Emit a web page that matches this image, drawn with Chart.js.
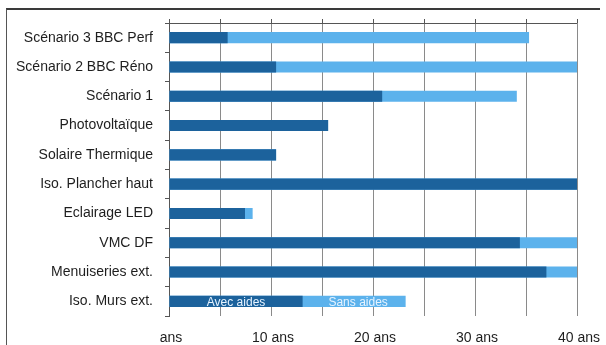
<!DOCTYPE html>
<html lang="fr">
<head>
<meta charset="utf-8">
<title>Temps de retour sur investissement</title>
<script src="https://cdn.jsdelivr.net/npm/chart.js@4/dist/chart.umd.min.js"></script>
<style>
  html, body { margin: 0; padding: 0; background: #ffffff; overflow: hidden; }
  #wrap { position: relative; width: 606px; height: 345px; }
  #frame {
    position: absolute; left: 6px; top: 8px; width: 594px; height: 337px;
    border-top: 2px solid #3a3a3a; border-left: 1px solid #555555;
    box-sizing: border-box; pointer-events: none;
  }
  canvas { position: absolute; left: 0; top: 0; }
</style>
</head>
<body>
<div id="wrap">
  <canvas id="chart" width="606" height="345"></canvas>
  <div id="frame"></div>
</div>
<script>
// Postes de travaux
const categories = [
  'Scénario 3 BBC Perf',
  'Scénario 2 BBC Réno',
  'Scénario 1',
  'Photovoltaïque',
  'Solaire Thermique',
  'Iso. Plancher haut',
  'Eclairage LED',
  'VMC DF',
  'Menuiseries ext.',
  'Iso. Murs ext.'
];

// Temps de retour (années)
const avecAides = [5.75, 10.5, 20.9, 15.6, 10.5, 40, 7.45, 34.4, 37.0, 13.1];
const sansAides = [35.3, 40, 34.1, 15.6, 10.5, 40, 8.2, 40, 40, 23.2];

// Graduations de l'axe des durées
const axisMin = 0;
const axisMax = 40;
const axisStep = 5;
const labelledTicks = [0, 10, 20, 30, 40];
const tickLabel = v => (v === 0 ? 'ans' : v + ' ans');

const FONT = '"Liberation Sans", Arial, sans-serif';

// Trait supérieur de la zone de tracé + petites graduations au-dessus
const topAxisLine = {
  id: 'topAxisLine',
  afterDatasetsDraw(chart) {
    const { ctx, chartArea, scales } = chart;
    ctx.save();
    ctx.strokeStyle = '#555555';
    ctx.lineWidth = 1;
    ctx.beginPath();
    ctx.moveTo(chartArea.left, chartArea.top + 0.5);
    ctx.lineTo(chartArea.right, chartArea.top + 0.5);
    scales.x.ticks.forEach(t => {
      const x = Math.round(scales.x.getPixelForValue(t.value)) + 0.5;
      ctx.moveTo(x, chartArea.top - 4);
      ctx.lineTo(x, chartArea.top);
    });
    ctx.stroke();
    ctx.restore();
  }
};

// Libellés de durée sous l'axe (tous les 10 ans)
const durationLabels = {
  id: 'durationLabels',
  afterDraw(chart) {
    const { ctx, chartArea, scales } = chart;
    ctx.save();
    ctx.font = '14px ' + FONT;
    ctx.fillStyle = '#1e1e1e';
    ctx.textAlign = 'center';
    ctx.textBaseline = 'middle';
    labelledTicks.forEach(v => {
      ctx.fillText(tickLabel(v), scales.x.getPixelForValue(v) + 2, chartArea.bottom + 22);
    });
    ctx.restore();
  }
};

// Légende inscrite dans la dernière barre
const inBarLegend = {
  id: 'inBarLegend',
  afterDatasetsDraw(chart) {
    const { ctx } = chart;
    const last = categories.length - 1;
    const darkEl = chart.getDatasetMeta(0).data[last];
    const lightEl = chart.getDatasetMeta(1).data[last];
    if (!darkEl || !lightEl) return;
    ctx.save();
    ctx.font = '12px ' + FONT;
    ctx.fillStyle = '#e6f3ff';
    ctx.textAlign = 'center';
    ctx.textBaseline = 'middle';
    const y = darkEl.y + 1;
    ctx.fillText(chart.data.datasets[0].label, (darkEl.base + darkEl.x) / 2, y);
    ctx.fillText(chart.data.datasets[1].label, (darkEl.x + lightEl.x) / 2 + 4, y);
    ctx.restore();
  }
};

new Chart(document.getElementById('chart'), {
  type: 'bar',
  data: {
    labels: categories,
    datasets: [
      {
        label: 'Avec aides',
        data: avecAides,
        backgroundColor: '#1c629c',
        borderWidth: 0,
        grouped: false,
        barPercentage: 0.38,
        categoryPercentage: 1
      },
      {
        label: 'Sans aides',
        data: sansAides,
        backgroundColor: '#5cb2ec',
        borderWidth: 0,
        grouped: false,
        barPercentage: 0.38,
        categoryPercentage: 1
      }
    ]
  },
  options: {
    indexAxis: 'y',
    responsive: false,
    animation: false,
    layout: { padding: { left: 0, right: 29, top: 23, bottom: 0 } },
    plugins: {
      legend: { display: false },
      tooltip: { enabled: false }
    },
    scales: {
      x: {
        min: axisMin,
        max: axisMax,
        afterFit(scale) {
          scale.height = 29;
          scale.paddingLeft = 0;
          scale.paddingRight = 0;
        },
        border: { display: false },
        grid: { color: '#8a8a8a', lineWidth: 1, drawTicks: false },
        ticks: {
          display: false,
          stepSize: axisStep,
          autoSkip: false
        }
      },
      y: {
        afterFit(scale) { scale.width = 169; },
        border: { display: true, color: '#555555', width: 1 },
        grid: { drawOnChartArea: false, offset: true, tickLength: 4, color: '#555555' },
        ticks: {
          padding: 12,
          color: '#1e1e1e',
          font: { family: FONT, size: 14 }
        }
      }
    }
  },
  plugins: [topAxisLine, durationLabels, inBarLegend]
});
</script>
</body>
</html>
